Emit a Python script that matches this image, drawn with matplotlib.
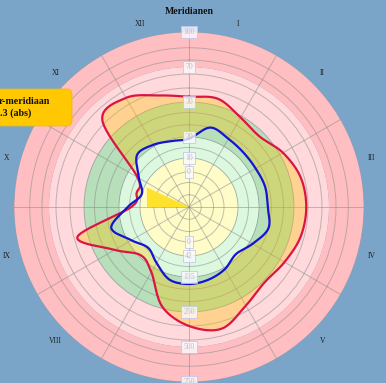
import numpy as np
import matplotlib
matplotlib.use("Agg")
import matplotlib.pyplot as plt
from matplotlib.path import Path
from matplotlib.patches import PathPatch, FancyBboxPatch

# ---------------- data ----------------
# VI and VII fall below the visible picture, as in the reference
meridians = ['I', 'II', 'III', 'IV', 'V', 'VIII', 'IX', 'X', 'XI', 'XII']
meridian_angles = [15, 45, 75, 105, 135, 225, 255, 285, 315, 345]

point_angles = list(range(0, 360, 15))
red_values = [63, 64, 59, 57, 62, 66, 67, 66, 63, 61, 65, 72,
              68, 59, 43, 39, 49, 66, 33, 31, 34, 70, 72, 66]
blue_values = [39, 47, 45, 44, 44, 45, 45, 47, 42, 38, 41, 43,
               44, 43, 37, 33, 38, 46, 35, 28, 33, 42, 41, 39]

wedge_angles = [270, 295]
wedge_values = [24, 26.6]

band_edges = [0, 28, 40, 60, 80, 100]
band_colors = ['#FFFCC8', '#DCF9E0', '#B6DFBA', '#FFD9DB', '#FFBFC2']

grid_radii = [7, 14, 20, 28, 34, 40, 47, 54, 60, 68, 76, 84, 91, 100]
label_radii = [20, 28, 40, 60, 80, 100]
top_labels = ['0', '10', '20', '30', '70', '100']
bottom_labels = ['0', '42', '135', '250', '500', '750']

title = 'Meridianen'
tooltip_lines = ['r-meridiaan', '.3 (abs)']

# ---------------- helpers ----------------
def smooth_polar(angles, vals, n=24):
    th = np.radians(angles)
    v = np.asarray(vals, float)
    x = v * np.sin(th)
    y = v * np.cos(th)
    N = len(v)
    xs, ys = [], []
    t = np.linspace(0, 1, n, endpoint=False)
    for i in range(N):
        ids = [(i - 1) % N, i, (i + 1) % N, (i + 2) % N]
        for arr, out in ((x, xs), (y, ys)):
            p0, p1, p2, p3 = arr[ids]
            out.append(0.5 * (2 * p1 + (-p0 + p2) * t
                              + (2 * p0 - 5 * p1 + 4 * p2 - p3) * t ** 2
                              + (-p0 + 3 * p1 - 3 * p2 + p3) * t ** 3))
    xs = np.concatenate(xs); ys = np.concatenate(ys)
    xs = np.append(xs, xs[0]); ys = np.append(ys, ys[0])
    return np.arctan2(xs, ys), np.hypot(xs, ys)

# ---------------- figure ----------------
W, H = 386, 383
fig = plt.figure(figsize=(W / 100, H / 100), dpi=100)
fig.patch.set_facecolor('#7AA5C8')

cx, cy, R = 189, 207, 175
ax = fig.add_axes([(cx - R) / W, (H - cy - R) / H, 2 * R / W, 2 * R / H],
                  projection='polar')
ax.set_facecolor('none')
ax.set_theta_zero_location('N')
ax.set_theta_direction(-1)
ax.set_ylim(0, 100)
ax.spines['polar'].set_visible(False)

# bands
for r0, r1, c in zip(band_edges[:-1], band_edges[1:], band_colors):
    ax.bar(0, r1 - r0, width=2 * np.pi, bottom=r0, color=c,
           edgecolor='none', zorder=0.1, align='center')

# grid
ax.set_yticks(grid_radii)
ax.set_yticklabels([])
ax.set_xticks(np.radians(np.arange(0, 360, 30)))
ax.set_xticklabels([])
ax.grid(True, color='#8C8C8C', alpha=0.55, lw=0.7)
ax.set_axisbelow(True)
ax.tick_params(length=0)

# fill between blue and red
tr, rr = smooth_polar(point_angles, red_values)
tb, rb = smooth_polar(point_angles, blue_values)
verts = np.concatenate([np.column_stack([tr, rr]), np.column_stack([tb[::-1], rb[::-1]])])
codes = ([Path.MOVETO] + [Path.LINETO] * (len(tr) - 2) + [Path.CLOSEPOLY]
         + [Path.MOVETO] + [Path.LINETO] * (len(tb) - 2) + [Path.CLOSEPOLY])
ax.add_patch(PathPatch(Path(verts, codes), facecolor='#FFC400', alpha=0.33,
                       edgecolor='none', zorder=2))

# wedge
wt = np.radians(wedge_angles)
ax.fill([0, wt[0], wt[1]], [0, wedge_values[0], wedge_values[1]],
        color='#FFE22E', zorder=2.2, lw=0)

ax.plot(tr, rr, color='#DC1446', lw=1.6, zorder=3)
ax.plot(tb, rb, color='#1414D2', lw=1.6, zorder=3)

# radial labels
bbox = dict(boxstyle='square,pad=0.3', fc='#FAFAFF', ec='#C4C4EC', lw=0.7, alpha=0.8)
for r, lt, lb in zip(label_radii, top_labels, bottom_labels):
    for th, s in ((0, lt), (np.pi, lb)):
        ax.text(th, r, s, ha='center', va='center', fontsize=5.5,
                family='Liberation Serif', color='#BDBDC8', bbox=bbox,
                zorder=4, clip_on=False)

# meridian labels
for a, m in zip(meridian_angles, meridians):
    ax.text(np.radians(a), 108, m, ha='center', va='center', fontsize=5.5,
            family='Liberation Serif', color='#222222', clip_on=False)

fig.text(cx / W, 1 - 11 / H, title, ha='center', va='center', fontsize=7,
         family='Liberation Serif', fontweight='bold', color='#111111')

# tooltip
box = FancyBboxPatch((-20 / W, 1 - 126 / H), 92 / W, 37 / H,
                     boxstyle='round,pad=0,rounding_size=0.014',
                     transform=fig.transFigure, fc='#FFC800', ec='#F0B800',
                     lw=0.5, zorder=10)
fig.add_artist(box)
fig.text(-1 / W, 1 - 101 / H, tooltip_lines[0], ha='left', va='center', fontsize=7.2,
         family='Liberation Serif', fontweight='bold', color='#111111', zorder=11)
fig.text(0 / W, 1 - 113 / H, tooltip_lines[1], ha='left', va='center', fontsize=7.2,
         family='Liberation Serif', fontweight='bold', color='#111111', zorder=11)

fig.savefig('out.png', dpi=100, facecolor=fig.get_facecolor())
